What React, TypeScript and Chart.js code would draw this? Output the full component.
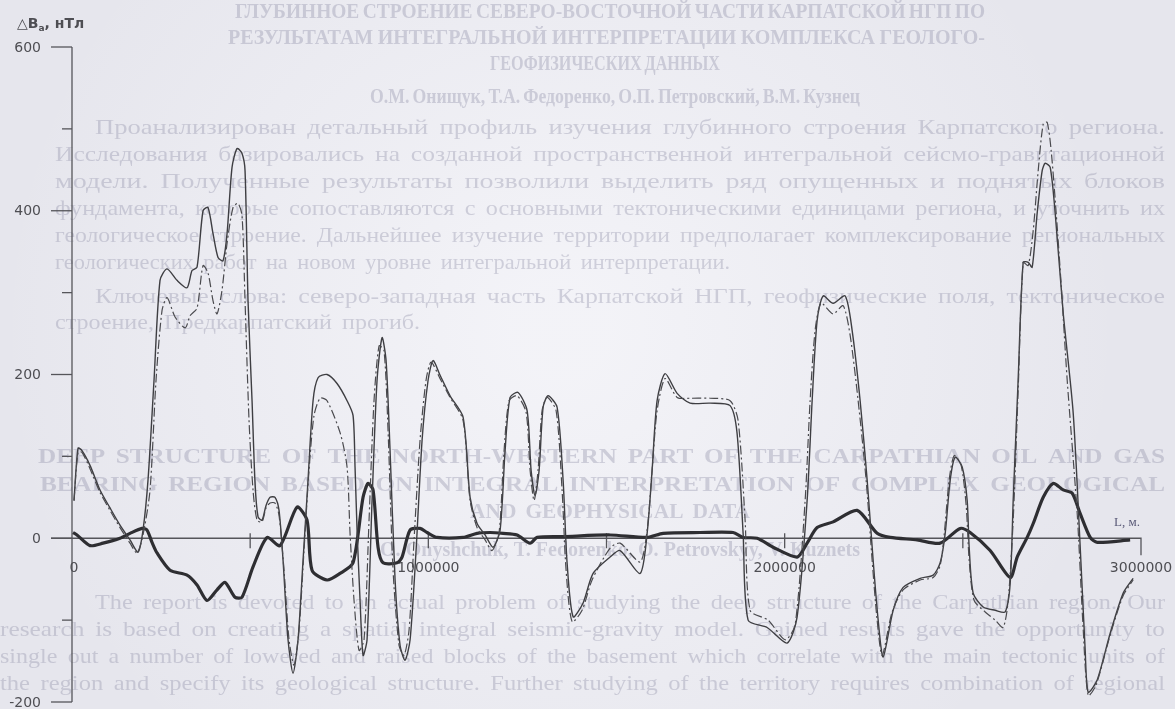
import React, { useEffect, useRef } from "react";
import { Chart, registerables } from "chart.js";

Chart.register(...registerables);

const W = 1175;
const H = 709;

// Thin solid curve (L, m ; ΔBa, nT)
const S1_L = [5600, 17000, 28000, 50500, 78600, 106700, 134700, 162800, 185300, 199300, 213300, 230200, 247000, 266700, 294700, 322800, 336800, 350900, 367700, 381700, 395800, 409800, 423900, 435100, 449100, 463200, 477200, 485600, 494000, 505300, 513700, 522100, 533300, 544600, 555800, 569800, 581000, 592300, 606300, 620300, 634300, 648400, 662400, 676500, 690500, 715800, 743800, 771900, 788700, 794300, 800000, 808400, 816800, 828000, 842100, 856100, 870200, 881400, 892600, 906700, 920700, 934700, 948800, 965600, 982500, 999300, 1013300, 1033000, 1061000, 1097500, 1117200, 1136800, 1159300, 1181700, 1201400, 1215400, 1229400, 1251900, 1277200, 1288400, 1299600, 1310900, 1322100, 1336100, 1361400, 1378200, 1389400, 1406300, 1434300, 1462400, 1510100, 1538200, 1594300, 1614000, 1628000, 1642000, 1664500, 1698200, 1734600, 1790700, 1846900, 1866500, 1883400, 1897400, 1950800, 2006900, 2035000, 2063000, 2077100, 2091100, 2107900, 2136000, 2169700, 2189300, 2211800, 2231500, 2248300, 2262400, 2276400, 2304500, 2332500, 2380300, 2416800, 2436400, 2450500, 2464500, 2478500, 2498200, 2512200, 2517800, 2529000, 2557100, 2590800, 2618800, 2632900, 2641300, 2655200, 2669300, 2683400, 2694600, 2708600, 2722700, 2731100, 2745200, 2759200, 2781700, 2809700, 2829400, 2843400, 2851800, 2877100, 2913600, 2950100, 2978000];
const S1_V = [46, 110, 107, 89, 59, 37, 16, -2, -17, 10, 71, 193, 315, 329, 315, 306, 327, 331, 400, 404, 372, 343, 339, 372, 453, 476, 470, 449, 290, 168, 67, 26, 22, 40, 50, 50, 34, -27, -124, -165, -124, -27, 71, 168, 196, 200, 189, 168, 150, 87, 10, -76, -143, -124, 46, 193, 245, 217, 107, -51, -131, -149, -124, -15, 120, 193, 217, 199, 174, 148, 50, 18, 4, -11, 10, 107, 172, 178, 156, 83, 52, 83, 160, 174, 160, 71, -30, -96, -79, -43, -23, -15, -43, 6, 83, 168, 201, 177, 165, 165, 162, 128, 6, -100, -109, -128, -96, 46, 168, 266, 296, 287, 296, 254, 168, 71, -27, -100, -145, -88, -60, -49, -45, -30, 6, 71, 99, 87, 46, -11, -67, -84, -88, -90, -55, 46, 193, 337, 337, 331, 397, 449, 458, 453, 397, 275, 153, -11, -137, -188, -173, -116, -67, -49];

// Thin dash-dot curve
const S2_L = [5600, 17000, 28000, 50500, 78600, 106700, 134700, 162800, 182500, 199300, 219000, 235800, 252600, 266700, 289600, 317700, 331700, 350900, 367700, 381700, 395800, 407000, 421000, 435100, 451900, 465900, 477200, 485600, 496800, 508000, 519300, 533300, 544600, 555800, 569800, 581000, 595000, 609100, 623100, 637100, 651100, 665200, 679200, 696100, 715800, 753000, 771900, 780300, 791500, 805500, 819600, 833600, 847600, 861700, 875700, 886900, 901000, 917800, 931900, 945900, 959900, 976800, 993600, 1007700, 1033000, 1061000, 1097500, 1117200, 1136800, 1159300, 1178900, 1198500, 1212600, 1226600, 1249100, 1274300, 1285600, 1296800, 1307900, 1319200, 1333300, 1358500, 1375300, 1386600, 1403400, 1431500, 1459500, 1510100, 1538200, 1594300, 1614000, 1628000, 1642000, 1664500, 1698200, 1734600, 1790700, 1846900, 1869300, 1889000, 1903000, 1953600, 2001300, 2029300, 2057400, 2071400, 2085500, 2102300, 2136000, 2164100, 2183700, 2206200, 2228600, 2245500, 2259500, 2273600, 2301600, 2332500, 2380300, 2416800, 2436400, 2447600, 2461600, 2475700, 2495300, 2509400, 2517800, 2531800, 2562700, 2590800, 2613200, 2627300, 2641300, 2655200, 2669300, 2683400, 2697500, 2711500, 2725600, 2736800, 2748000, 2762000, 2776100, 2792900, 2821000, 2837900, 2851800, 2874200, 2913600, 2950100, 2978000];
const S2_V = [46, 105, 105, 85, 56, 34, 13, -6, -18, 4, 59, 193, 278, 294, 270, 257, 272, 281, 333, 324, 290, 274, 303, 360, 404, 409, 394, 290, 144, 59, 22, 20, 37, 43, 43, 28, -39, -124, -155, -112, -15, 83, 150, 171, 168, 128, 87, 6, -76, -137, -124, 22, 168, 235, 229, 132, -39, -131, -143, -112, -2, 120, 193, 215, 195, 172, 144, 46, 13, -2, -15, 7, 107, 168, 174, 154, 83, 46, 83, 156, 172, 156, 59, -39, -102, -88, -51, -12, -6, -29, 10, 83, 156, 195, 172, 171, 171, 168, 144, 22, -88, -100, -124, -106, 46, 168, 254, 287, 274, 284, 248, 168, 71, -27, -100, -143, -90, -63, -51, -48, -33, 4, 71, 101, 89, 40, -27, -76, -90, -100, -109, -76, 22, 180, 337, 333, 376, 449, 506, 508, 473, 397, 309, 193, 30, -112, -192, -179, -118, -70, -51];

// Thick curve
const S3_L = [2800, 14000, 50500, 87000, 134700, 162800, 196500, 210500, 224500, 238600, 275100, 322800, 350900, 378900, 407000, 429500, 457500, 477200, 508000, 547400, 583800, 631500, 659600, 673600, 715800, 752300, 788700, 816800, 830900, 844900, 858900, 872900, 912200, 926200, 948700, 976800, 996500, 1024600, 1097500, 1136800, 1173300, 1209800, 1249100, 1285600, 1305200, 1378200, 1510100, 1614000, 1658900, 1762700, 1855300, 1883400, 1922700, 1967600, 2035000, 2063000, 2091100, 2136000, 2203400, 2259500, 2296000, 2371800, 2436400, 2492500, 2520500, 2576700, 2632900, 2652500, 2680600, 2697500, 2725600, 2753400, 2781700, 2807000, 2829400, 2857400, 2877100, 2969500];
const S3_V = [7, 4, -9, -6, 0, 6, 12, 10, -5, -18, -39, -45, -57, -76, -63, -54, -72, -72, -35, 1, -9, 38, 22, -39, -51, -43, -30, 50, 67, 59, -11, -30, -30, -23, 10, 12, 7, 1, 1, 6, 7, 6, 4, -6, 1, 2, 4, 1, 6, 7, 7, 1, 0, -11, -23, -6, 13, 20, 34, 6, 1, -2, -6, 12, 7, -15, -48, -23, 1, 18, 50, 67, 59, 55, 30, 1, -5, -2];

const Y_MAJOR = [600, 400, 200, 0, -200];
const Y_MINOR = [500, 300, 100, -100];
const X_LABELS = [0, 1000000, 2000000, 3000000];
const X_MINOR = [500000, 1500000, 2500000];
const Y_TITLE_MAIN = "△B";
const Y_TITLE_SUB = "a";
const Y_TITLE_REST = ", нТл";
const X_TITLE = "L, м.";

// Faded page text showing through the scanned figure: [text, y, x1, x2, bold]
const PAGE_TEXT: [string, number, number, number, boolean][] = [
  ["ГЛУБИННОЕ СТРОЕНИЕ СЕВЕРО-ВОСТОЧНОЙ ЧАСТИ КАРПАТСКОЙ НГП ПО", 13, 235, 985, true],
  ["РЕЗУЛЬТАТАМ ИНТЕГРАЛЬНОЙ ИНТЕРПРЕТАЦИИ КОМПЛЕКСА ГЕОЛОГО-", 39, 228, 985, true],
  ["ГЕОФИЗИЧЕСКИХ ДАННЫХ", 65, 490, 720, true],
  ["О.М. Онищук, Т.А. Федоренко, О.П. Петровский, В.М. Кузнец", 98, 370, 860, true],
  ["Проанализирован детальный профиль изучения глубинного строения Карпатского региона.", 128, 95, 1165, false],
  ["Исследования базировались на созданной пространственной интегральной сейсмо-гравитационной", 155, 55, 1165, false],
  ["модели. Полученные результаты позволили выделить ряд опущенных и поднятых блоков", 182, 55, 1165, false],
  ["фундамента, которые сопоставляются с основными тектоническими единицами региона, и уточнить их", 209, 55, 1165, false],
  ["геологическое строение. Дальнейшее изучение территории предполагает комплексирование региональных", 236, 55, 1165, false],
  ["геологических работ на новом уровне интегральной интерпретации.", 263, 55, 730, false],
  ["Ключевые слова: северо-западная часть Карпатской НГП, геофизические поля, тектоническое", 297, 95, 1165, false],
  ["строение, Предкарпатский прогиб.", 323, 55, 420, false],
  ["DEEP STRUCTURE OF THE NORTH-WESTERN PART OF THE CARPATHIAN OIL AND GAS", 458, 38, 1165, true],
  ["BEARING REGION BASED ON INTEGRAL INTERPRETATION OF COMPLEX GEOLOGICAL", 486, 40, 1165, true],
  ["AND GEOPHYSICAL DATA", 513, 470, 750, true],
  ["O. Onyshchuk, T. Fedorenko, O. Petrovskyy, V. Kuznets", 551, 380, 860, true],
  ["The report is devoted to an actual problem of studying the deep structure of the Carpathian region. Our", 603, 95, 1165, false],
  ["research is based on creating a spatial integral seismic-gravity model. Gained results gave the opportunity to", 630, 0, 1165, false],
  ["single out a number of lowered and raised blocks of the basement which correlate with the main tectonic units of", 657, 0, 1165, false],
  ["the region and specify its geological structure. Further studying of the territory requires combination of regional", 684, 0, 1165, false],
];

const toPts = (xs: number[], ys: number[]) => xs.map((x, i) => ({ x, y: ys[i] }));

function drawJustified(ctx: CanvasRenderingContext2D, text: string, y: number, x1: number, x2: number) {
  const words = text.split(" ");
  const widths = words.map((w) => ctx.measureText(w).width);
  const total = widths.reduce((a, b) => a + b, 0);
  const avail = x2 - x1;
  const space = ctx.measureText(" ").width;
  const gaps = Math.max(1, words.length - 1);
  let gap = (avail - total) / gaps;
  gap = Math.max(space * 0.7, Math.min(gap, space * 1.7));
  const sx = avail / (total + gap * gaps);
  ctx.save();
  ctx.translate(x1, y);
  ctx.scale(sx, 1);
  let cx = 0;
  words.forEach((w, i) => {
    ctx.fillText(w, cx, 0);
    cx += widths[i] + gap;
  });
  ctx.restore();
}

export default function App() {
  const ref = useRef<HTMLCanvasElement>(null);

  useEffect(() => {
    const axesPlugin = {
      id: "paperAxes",
      beforeDraw(chart: any) {
        const ctx = chart.ctx as CanvasRenderingContext2D;
        ctx.save();
        ctx.fillStyle = "#e6e6ed";
        ctx.fillRect(0, 0, chart.width, chart.height);
        const g = ctx.createRadialGradient(560, 330, 50, 560, 330, 560);
        g.addColorStop(0, "rgba(246,246,250,0.8)");
        g.addColorStop(1, "rgba(246,246,250,0)");
        ctx.fillStyle = g;
        ctx.fillRect(0, 0, chart.width, chart.height);
        ctx.filter = "blur(0.7px)";
        ctx.fillStyle = "rgba(140,140,165,0.36)";
        ctx.textBaseline = "middle";
        ctx.textAlign = "left";
        PAGE_TEXT.forEach(([t, y, x1, x2, bold]) => {
          ctx.font = (bold ? "bold 20px" : "22px") + " 'Liberation Serif', serif";
          drawJustified(ctx, t, y, x1, x2);
        });
        ctx.restore();
      },
      beforeDatasetsDraw(chart: any) {
        const ctx = chart.ctx as CanvasRenderingContext2D;
        const xs = chart.scales.x;
        const ys = chart.scales.y;
        const x0 = xs.getPixelForValue(0);
        const y0 = ys.getPixelForValue(0);
        const xEnd = xs.getPixelForValue(3000000);
        ctx.save();
        ctx.strokeStyle = "#55555a";
        ctx.lineWidth = 1.3;
        ctx.beginPath();
        ctx.moveTo(x0, ys.getPixelForValue(600));
        ctx.lineTo(x0, ys.getPixelForValue(-200));
        ctx.stroke();
        Y_MAJOR.forEach((v) => {
          const py = ys.getPixelForValue(v);
          ctx.beginPath();
          ctx.moveTo(x0 - 21, py);
          ctx.lineTo(x0, py);
          ctx.stroke();
        });
        Y_MINOR.forEach((v) => {
          const py = ys.getPixelForValue(v);
          ctx.beginPath();
          ctx.moveTo(x0 - 10, py);
          ctx.lineTo(x0, py);
          ctx.stroke();
        });
        ctx.beginPath();
        ctx.moveTo(x0 - 21, y0);
        ctx.lineTo(xEnd, y0);
        ctx.lineTo(xEnd, y0 + 17);
        ctx.stroke();
        [1000000, 2000000, ...X_MINOR].forEach((v) => {
          const px = xs.getPixelForValue(v);
          ctx.beginPath();
          ctx.moveTo(px, y0 - 5);
          ctx.lineTo(px, y0 + 10);
          ctx.stroke();
        });
        ctx.fillStyle = "#4e4e53";
        ctx.font = "14px 'DejaVu Sans', sans-serif";
        ctx.textBaseline = "middle";
        ctx.textAlign = "right";
        Y_MAJOR.forEach((v) => {
          const py = ys.getPixelForValue(v);
          ctx.fillText(String(v), x0 - 31, py + 1);
        });
        ctx.textAlign = "center";
        X_LABELS.forEach((v) => {
          const px = xs.getPixelForValue(v);
          ctx.fillText(String(v), v === 0 ? px + 2 : px, y0 + 30);
        });
        ctx.textAlign = "left";
        ctx.font = "bold 14px 'DejaVu Sans', sans-serif";
        let tx = 17;
        const ty = 24;
        ctx.fillText(Y_TITLE_MAIN, tx, ty);
        tx += ctx.measureText(Y_TITLE_MAIN).width;
        ctx.font = "bold 9px 'DejaVu Sans', sans-serif";
        ctx.fillText(Y_TITLE_SUB, tx, ty + 5);
        tx += ctx.measureText(Y_TITLE_SUB).width;
        ctx.font = "bold 14px 'DejaVu Sans', sans-serif";
        ctx.fillText(Y_TITLE_REST, tx, ty);
        ctx.fillStyle = "#5a5a78";
        ctx.font = "13px 'Liberation Serif', serif";
        ctx.textAlign = "right";
        ctx.fillText(X_TITLE, xEnd - 1, y0 - 16);
        ctx.restore();
      },
    };

    const chart = new Chart(ref.current as HTMLCanvasElement, {
      type: "line",
      data: {
        datasets: [
          {
            data: toPts(S2_L, S2_V),
            borderColor: "#4a4a4e",
            borderWidth: 1.2,
            borderDash: [9, 3, 2, 3],
            pointRadius: 0,
            tension: 0.25,
            fill: false,
          },
          {
            data: toPts(S1_L, S1_V),
            borderColor: "#3e3e42",
            borderWidth: 1.4,
            pointRadius: 0,
            tension: 0.25,
            fill: false,
          },
          {
            data: toPts(S3_L, S3_V),
            borderColor: "#2e2e32",
            borderWidth: 3.2,
            pointRadius: 0,
            tension: 0.25,
            fill: false,
          },
        ],
      },
      options: {
        responsive: false,
        maintainAspectRatio: false,
        animation: false,
        layout: { padding: { left: 72, right: 34, top: 47, bottom: 7 } },
        scales: {
          x: { type: "linear", min: 0, max: 3000000, display: false },
          y: { type: "linear", min: -200, max: 600, display: false },
        },
        plugins: { legend: { display: false }, tooltip: { enabled: false } },
      },
      plugins: [axesPlugin],
    } as any);

    return () => chart.destroy();
  }, []);

  return (
    <div style={{ position: "fixed", left: 0, top: 0, width: W, height: H }}>
      <canvas ref={ref} width={W} height={H} style={{ display: "block", width: W, height: H }} />
    </div>
  );
}
